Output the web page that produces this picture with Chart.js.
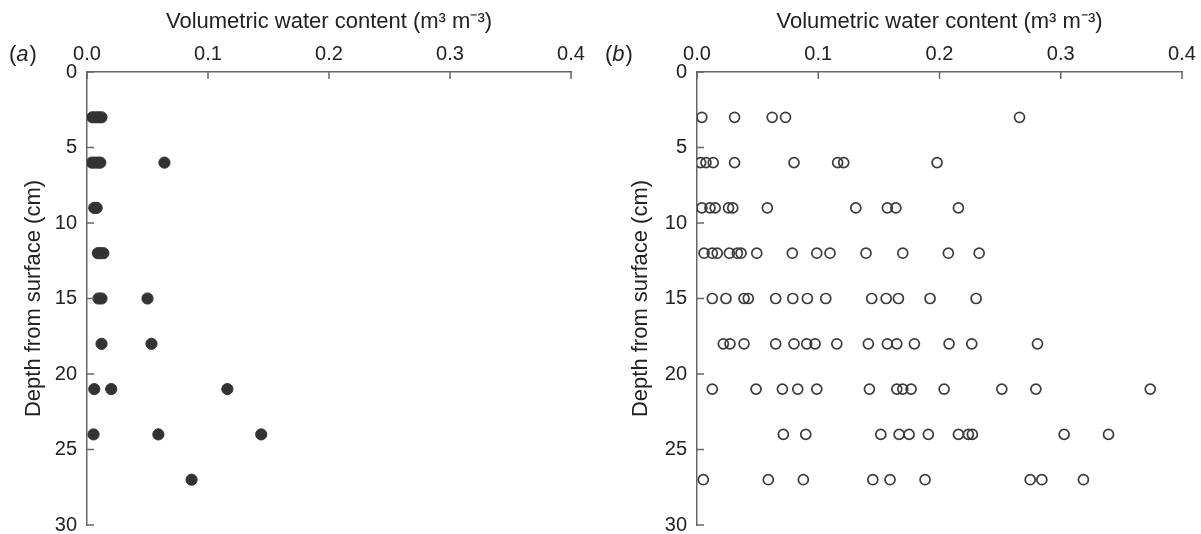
<!DOCTYPE html>
<html>
<head>
<meta charset="utf-8">
<script src="https://cdn.jsdelivr.net/npm/chart.js@4.4.0/dist/chart.umd.min.js"></script>
<style>
  html, body { margin: 0; padding: 0; background: #fff; }
  #wrap { position: relative; width: 1201px; height: 534px; overflow: hidden; }
  canvas { position: absolute; top: 0; }
</style>
</head>
<body>
<div id="wrap">
  <canvas id="ca" width="600" height="534" style="left:0"></canvas>
  <canvas id="cb" width="601" height="534" style="left:600px"></canvas>
</div>
<script>
// ---------- data ----------
const xTicks = [0, 0.1, 0.2, 0.3, 0.4];
const yTicks = [0, 5, 10, 15, 20, 25, 30];
const xTitle = 'Volumetric water content (m³ m⁻³)';
const yTitle = 'Depth from surface (cm)';

// panel (a): depth (cm) and volumetric water content
const depthA = [3, 3, 3, 3,
                6, 6, 6, 6, 6,
                9, 9,
                12, 12, 12,
                15, 15, 15,
                18, 18,
                21, 21, 21,
                24, 24, 24,
                27];
const vwcA   = [0.0045, 0.007, 0.0095, 0.012,
                0.004, 0.0065, 0.009, 0.011, 0.064,
                0.006, 0.008,
                0.009, 0.011, 0.0135,
                0.0095, 0.012, 0.050,
                0.012, 0.0533,
                0.006, 0.020, 0.116,
                0.0054, 0.059, 0.144,
                0.0864];

// panel (b)
const depthB = [3, 3, 3, 3, 3,
                6, 6, 6, 6, 6, 6, 6, 6,
                9, 9, 9, 9, 9, 9, 9, 9, 9, 9,
                12, 12, 12, 12, 12, 12, 12, 12, 12, 12, 12, 12, 12, 12,
                15, 15, 15, 15, 15, 15, 15, 15, 15, 15, 15, 15, 15,
                18, 18, 18, 18, 18, 18, 18, 18, 18, 18, 18, 18, 18, 18, 18,
                21, 21, 21, 21, 21, 21, 21, 21, 21, 21, 21, 21, 21,
                24, 24, 24, 24, 24, 24, 24, 24, 24, 24, 24,
                27, 27, 27, 27, 27, 27, 27, 27, 27];
const vwcB   = [0.004, 0.031, 0.062, 0.073, 0.266,
                0.003, 0.0074, 0.0134, 0.031, 0.080, 0.116, 0.121, 0.198,
                0.004, 0.0107, 0.015, 0.026, 0.0295, 0.058, 0.131, 0.157, 0.164, 0.2156,
                0.0058, 0.0126, 0.0167, 0.0267, 0.0333, 0.0363, 0.0493, 0.0786, 0.0988, 0.1097, 0.1394, 0.1697, 0.2073, 0.2327,
                0.0126, 0.0239, 0.0388, 0.0423, 0.0649, 0.079, 0.091, 0.1062, 0.1441, 0.156, 0.1661, 0.1922, 0.2302,
                0.0217, 0.0272, 0.0388, 0.0649, 0.080, 0.0905, 0.0974, 0.1153, 0.1413, 0.157, 0.1648, 0.1793, 0.2079, 0.2266, 0.2808,
                0.0126, 0.0487, 0.0704, 0.0831, 0.0988, 0.1422, 0.1648, 0.1697, 0.1766, 0.2038, 0.2514, 0.2795, 0.3738,
                0.0712, 0.0897, 0.1516, 0.1667, 0.1749, 0.1908, 0.2156, 0.2238, 0.2271, 0.3028, 0.3394,
                0.0052, 0.0588, 0.0877, 0.145, 0.1592, 0.1881, 0.2748, 0.2844, 0.3187];

// ---------- helpers ----------
const FONT = 'Liberation Sans, Arial, Helvetica, sans-serif';
const FSIZE = 20;
const TSIZE = 22;
const TXT = '#222';
const AXIS = '#666';

const inwardTicks = {
  id: 'inwardTicks',
  afterDraw(chart) {
    const ctx = chart.ctx, a = chart.chartArea;
    const sx = chart.scales.x, sy = chart.scales.y;
    ctx.save();
    ctx.strokeStyle = AXIS;
    ctx.lineWidth = 1.5;
    sx.ticks.forEach((t, i) => {
      const px = sx.getPixelForTick(i);
      ctx.beginPath(); ctx.moveTo(px, a.top); ctx.lineTo(px, a.top + 7); ctx.stroke();
    });
    sy.ticks.forEach((t, i) => {
      const py = sy.getPixelForTick(i);
      ctx.beginPath(); ctx.moveTo(a.left, py); ctx.lineTo(a.left + 7, py); ctx.stroke();
    });
    ctx.restore();
  }
};

function panelLabel(letter, x, y) {
  return {
    id: 'panelLabel',
    afterDraw(chart) {
      const ctx = chart.ctx;
      ctx.save();
      ctx.fillStyle = TXT;
      ctx.textBaseline = 'middle';
      ctx.textAlign = 'left';
      ctx.font = TSIZE + 'px ' + FONT;
      let cx = x;
      ctx.fillText('(', cx, y); cx += ctx.measureText('(').width;
      ctx.font = 'italic ' + TSIZE + 'px ' + FONT;
      ctx.fillText(letter, cx, y); cx += ctx.measureText(letter).width + 1;
      ctx.font = TSIZE + 'px ' + FONT;
      ctx.fillText(')', cx, y);
      ctx.restore();
    }
  };
}

function makeChart(id, depth, vwc, filled, letter, geom) {
  const pts = depth.map((d, i) => ({ x: vwc[i], y: d }));
  return new Chart(document.getElementById(id), {
    type: 'scatter',
    data: {
      datasets: [{
        data: pts,
        pointStyle: 'circle',
        pointRadius: filled ? 5.6 : 5,
        pointHoverRadius: filled ? 5.6 : 5,
        backgroundColor: filled ? '#333' : 'rgba(0,0,0,0)',
        borderColor: filled ? '#333' : '#3c3c3c',
        borderWidth: filled ? 1 : 1.7
      }]
    },
    options: {
      responsive: false,
      animation: false,
      devicePixelRatio: 1,
      layout: { padding: { left: 0, top: 0, right: geom.right, bottom: geom.bottom } },
      plugins: { legend: { display: false }, tooltip: { enabled: false } },
      scales: {
        x: {
          type: 'linear', position: 'top', min: 0, max: 0.4,
          afterBuildTicks: s => { s.ticks = xTicks.map(v => ({ value: v })); },
          ticks: { callback: v => v.toFixed(1), font: { family: FONT, size: FSIZE }, color: TXT, padding: 6, maxRotation: 0 },
          grid: { display: true, drawOnChartArea: false, drawTicks: false },
          border: { display: true, color: AXIS, width: 1.5 },
          title: { display: true, text: xTitle, font: { family: FONT, size: TSIZE }, color: TXT, padding: { top: 9, bottom: 0 } },
          afterFit: s => { s.height = geom.top; s.paddingLeft = 0; s.paddingRight = 0; }
        },
        y: {
          type: 'linear', position: 'left', min: 0, max: 30, reverse: true,
          afterBuildTicks: s => { s.ticks = yTicks.map(v => ({ value: v })); },
          ticks: { font: { family: FONT, size: FSIZE }, color: TXT, padding: 10 },
          grid: { display: true, drawOnChartArea: false, drawTicks: false },
          border: { display: true, color: AXIS, width: 1.5 },
          title: { display: true, text: yTitle, font: { family: FONT, size: TSIZE }, color: TXT, padding: { top: geom.ytitle, bottom: 0 } },
          afterFit: s => { s.width = geom.left; s.paddingTop = 0; s.paddingBottom = 0; }
        }
      }
    },
    plugins: [inwardTicks, panelLabel(letter, geom.lx, geom.ly)]
  });
}

makeChart('ca', depthA, vwcA, true, 'a', { left: 87, top: 72, right: 29, bottom: 9, ytitle: 21, lx: 9, ly: 55 });
makeChart('cb', depthB, vwcB, false, 'b', { left: 97, top: 72, right: 19, bottom: 9, ytitle: 28, lx: 5, ly: 55 });
</script>
</body>
</html>
